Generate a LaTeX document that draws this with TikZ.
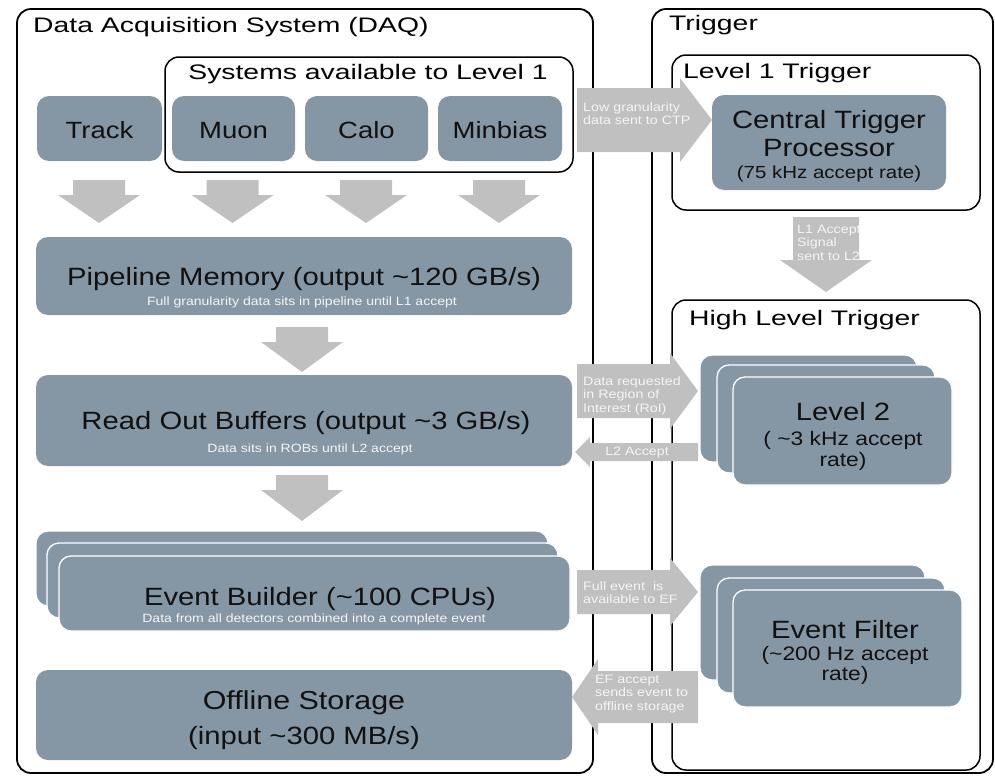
\documentclass[tikz,border=0pt]{standalone}
\usepackage{fontspec}
\setmainfont{Liberation Sans}[FakeStretch=1.17]
\newfontfamily\titfont{Liberation Sans}[FakeStretch=1.35]
\definecolor{slate}{RGB}{133,150,164}
\definecolor{agray}{RGB}{192,192,192}
\definecolor{atext}{RGB}{245,245,245}
\definecolor{ink}{RGB}{17,17,17}
\newcommand\tabL[1]{\begin{tabular}[t]{@{}l@{}}#1\end{tabular}}
\newcommand\darr[6]{\fill[agray] ({#1-#5},#2) -- ({#1+#5},#2) -- ({#1+#5},#3) -- ({#1+#6},#3) -- (#1,#4) -- ({#1-#6},#3) -- ({#1-#5},#3) -- cycle;}
\newcommand\harr[6]{\fill[agray] (#1,{#4-#5}) -- (#2,{#4-#5}) -- (#2,{#4-#6}) -- (#3,#4) -- (#2,{#4+#6}) -- (#2,{#4+#5}) -- (#1,{#4+#5}) -- cycle;}
\begin{document}
\begin{tikzpicture}[x=1pt,y=-1pt,
  frame/.style={draw=black, line width=1.8pt, rounded corners=14pt, inner sep=0pt},
  slatebox/.style={fill=slate, rounded corners=12pt, inner sep=0pt},
  stackbox/.style={slatebox, draw=white, line width=1.3pt},
  titl/.style={font=\titfont\fontsize{21}{24}\selectfont, text=black, inner sep=0pt},
  bigtxt/.style={font=\fontsize{25}{28}\selectfont, text=ink, inner sep=0pt, anchor=base},
  medtxt/.style={font=\fontsize{19.5}{22}\selectfont, text=ink, inner sep=0pt, anchor=base},
  smalltxt/.style={font=\fontsize{12}{13}\selectfont, text=atext, inner sep=0pt, anchor=base},
  arrtxt/.style={font=\fontsize{12.2}{13.5}\selectfont, text=atext, inner sep=0pt, anchor=base west}]
\useasboundingbox (0,0) rectangle (995,779);

% frames
\node[frame, minimum width=576pt, minimum height=764pt] (daq) at (305,391) {};
\node[frame, minimum width=341pt, minimum height=764pt] (trig) at (822.5,391) {};
\node[frame, line width=1.5pt, minimum width=308pt, minimum height=155pt] (l1box) at (826,132.5) {};
\node[frame, line width=1.5pt, minimum width=308pt, minimum height=470pt] (hltbox) at (826,535) {};
\node[frame, line width=1.5pt, minimum width=408pt, minimum height=115pt] (sysbox) at (369,114.5) {};

% titles
\node[titl, anchor=base west] (tdaq) at (33,32) {Data Acquisition System (DAQ)};
\node[titl, anchor=base west] (ttrig) at (669,30) {Trigger};
\node[titl, anchor=base west] (tl1) at (683,78) {Level 1 Trigger};
\node[titl, anchor=base west] (thlt) at (689,325) {High Level Trigger};
\node[titl, anchor=base] (tsys) at (368,79) {Systems available to Level 1};

% detector boxes
\node[slatebox, minimum width=125pt, minimum height=65pt] (track) at (99.5,128.5) {};
\node[slatebox, minimum width=123pt, minimum height=65pt] (muon) at (233.5,128.5) {};
\node[slatebox, minimum width=123pt, minimum height=65pt] (calo) at (366.5,128.5) {};
\node[slatebox, minimum width=124pt, minimum height=65pt] (minb) at (500,128.5) {};
\node[bigtxt, font=\fontsize{23.5}{26}\selectfont] (ttrack) at (99.5,138) {Track};
\node[bigtxt, font=\fontsize{23.5}{26}\selectfont] (tmuon) at (233.5,138) {Muon};
\node[bigtxt, font=\fontsize{23.5}{26}\selectfont] (tcalo) at (366.5,138) {Calo};
\node[bigtxt, font=\fontsize{23.5}{26}\selectfont] (tminb) at (500,138) {Minbias};

% DAQ chain
\node[slatebox, minimum width=536pt, minimum height=78pt] (pipe) at (304,276) {};
\node[bigtxt] (tpipe) at (304,285) {Pipeline Memory (output \textasciitilde120 GB/s)};
\node[smalltxt] (spipe) at (302,305) {Full granularity data sits in pipeline until L1 accept};

\node[slatebox, minimum width=536pt, minimum height=91pt] (rob) at (304,420.5) {};
\node[bigtxt] (trob) at (306,429) {Read Out Buffers (output \textasciitilde3 GB/s)};
\node[smalltxt] (srob) at (310,452) {Data sits in ROBs until L2 accept};

\node[stackbox, minimum width=512pt, minimum height=75pt] (eb1) at (292,568.5) {};
\node[stackbox, minimum width=511pt, minimum height=75pt] (eb2) at (302.5,580.5) {};
\node[stackbox, minimum width=511pt, minimum height=75pt] (eb3) at (314.5,593.5) {};
\node[bigtxt] (teb) at (320,605) {Event Builder (\textasciitilde100 CPUs)};
\node[smalltxt] (seb) at (314,622) {Data from all detectors combined into a complete event};

\node[slatebox, minimum width=536pt, minimum height=90pt] (off) at (304,715) {};
\node[bigtxt, font=\fontsize{26}{29}\selectfont] (toff1) at (304,709) {Offline Storage};
\node[bigtxt] (toff2) at (304,744) {(input \textasciitilde300 MB/s)};

% trigger side
\node[slatebox, minimum width=234pt, minimum height=95pt] (ctp) at (829,142.5) {};
\node[bigtxt] (tctp1) at (829,128) {Central Trigger};
\node[bigtxt] (tctp2) at (829,156) {Processor};
\node[medtxt, font=\fontsize{17.5}{20}\selectfont] (tctp3) at (829,178) {(75 kHz accept rate)};

\node[stackbox, minimum width=217pt, minimum height=107pt] (l2a) at (808.5,408.5) {};
\node[stackbox, minimum width=218pt, minimum height=108pt] (l2b) at (826,419) {};
\node[stackbox, minimum width=219pt, minimum height=108pt] (l2c) at (842.5,431) {};
\node[bigtxt] (tl2a) at (843,420) {Level 2};
\node[medtxt] (tl2b) at (843,445) {( \textasciitilde3 kHz accept};
\node[medtxt] (tl2c) at (843,466) {rate)};

\node[stackbox, minimum width=225pt, minimum height=115pt] (efa) at (812.5,622.5) {};
\node[stackbox, minimum width=228pt, minimum height=115pt] (efb) at (831,635.5) {};
\node[stackbox, minimum width=229pt, minimum height=117pt] (efc) at (847.5,648.5) {};
\node[bigtxt] (tefa) at (845,638) {Event Filter};
\node[medtxt] (tefb) at (845,660) {(\textasciitilde200 Hz accept};
\node[medtxt] (tefc) at (845,680) {rate)};

% block arrows
\darr{99}{180}{195}{223}{26}{41}
\darr{232.5}{180}{195}{223}{26}{41}
\darr{366}{180}{195}{223}{26}{41}
\darr{499}{180}{195}{223}{26}{41}
\darr{302}{327}{342}{372}{26}{41}
\darr{302}{475}{490}{521}{26}{41}
\darr{826}{217}{260}{292}{33}{46}
\harr{577}{680}{712}{120}{32}{42}
\harr{577}{670}{698}{391}{27}{38}
\harr{698}{590}{575}{452}{9}{15}
\harr{577}{670}{698}{592}{22}{34}
\harr{698}{598}{572}{697}{26}{38}

% arrow texts
\node[arrtxt] (alow) at (583,111) {\tabL{Low granularity\\data sent to CTP}};
\node[arrtxt] (al1) at (797,233) {\tabL{L1 Accept\\Signal\\sent to L2}};
\node[arrtxt] (areq) at (583,385) {\tabL{Data requested\\in Region of\\Interest (RoI)}};
\node[arrtxt, anchor=base] (al2) at (637,455) {L2 Accept};
\node[arrtxt] (afull) at (583,590) {\tabL{Full event\ \ is\\available to EF}};
\node[arrtxt] (aef) at (595,683) {\tabL{EF accept\\sends event to\\offline storage}};
\end{tikzpicture}
\end{document}
